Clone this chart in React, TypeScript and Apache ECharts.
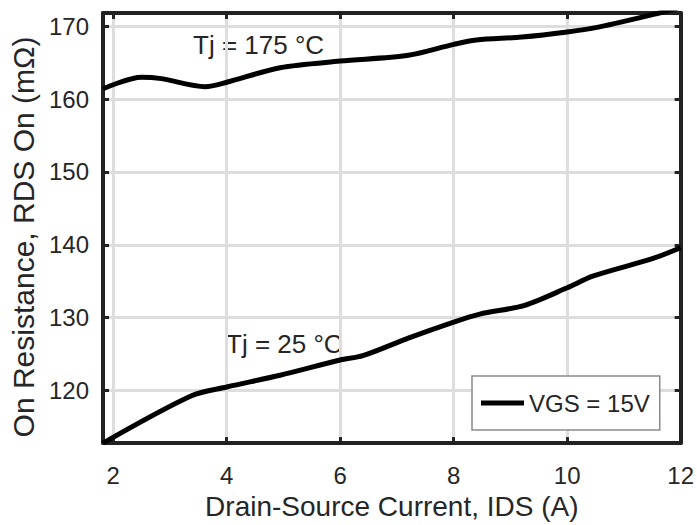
import React, { useEffect, useRef } from "react";
import * as echarts from "echarts";

const hotX = [1.82, 2.5, 2.85, 3.62, 4.0, 4.94, 6.0, 7.2, 8.0, 8.4, 9.2, 10.0, 10.57, 11.57, 12.0];
const hotY = [161.4, 163.0, 162.8, 161.7, 162.3, 164.3, 165.2, 166.0, 167.5, 168.1, 168.5, 169.2, 169.9, 171.7, 172.6];
const coldX = [1.82, 3.38, 4.0, 4.94, 6.0, 6.4, 7.2, 8.0, 8.46, 9.25, 10.0, 10.45, 11.5, 12.0];
const coldY = [112.8, 119.3, 120.5, 122.1, 124.2, 124.8, 127.2, 129.4, 130.5, 131.7, 134.1, 135.7, 138.1, 139.6];
const seriesName = "VGS = 15V";
const xName = "Drain-Source Current, IDS (A)";
const yName = "On Resistance, RDS On (mΩ)";
const hotLabel = "Tj = 175 °C";
const coldLabel = "Tj = 25 °C";
const xRange = [1.82, 12];
const yRange = [112.8, 171.8];

const FONT = "'Liberation Sans', Arial, Helvetica, sans-serif";
const TXT = "#262626";
const FRAME = "#222222";
const GRID = "#dddddd";

export default function App() {
  const ref = useRef<HTMLDivElement>(null);
  useEffect(() => {
    if (!ref.current) return;
    const chart = echarts.init(ref.current, null, { renderer: "svg" });
    const pair = (xs: number[], ys: number[]) => xs.map((x, i) => [x, ys[i]]);
    const baseX = {
      type: "value",
      min: xRange[0],
      max: xRange[1],
      axisLine: { show: true, onZero: false, lineStyle: { color: FRAME, width: 4 } },
      axisTick: { show: true, inside: true, length: 6, lineStyle: { color: FRAME, width: 3 } },
    };
    const baseY = {
      type: "value",
      min: yRange[0],
      max: yRange[1],
      axisLine: { show: true, onZero: false, lineStyle: { color: FRAME, width: 4 } },
      axisTick: { show: true, inside: true, length: 6, lineStyle: { color: FRAME, width: 3 } },
    };
    chart.setOption({
      animation: false,
      textStyle: { fontFamily: FONT },
      grid: { left: 103, right: 16, top: 13, bottom: 78, containLabel: false },
      xAxis: [
        {
          ...baseX,
          position: "bottom",
          name: xName,
          nameLocation: "middle",
          nameGap: 44,
          nameTextStyle: { fontSize: 28, color: TXT, fontFamily: FONT },
          axisLabel: { fontSize: 24, color: TXT, margin: 20, showMinLabel: false, fontFamily: FONT },
          splitLine: { show: true, lineStyle: { color: GRID, width: 3 } },
        },
        {
          ...baseX,
          position: "top",
          axisLabel: { show: false },
          splitLine: { show: false },
        },
      ],
      yAxis: [
        {
          ...baseY,
          position: "left",
          axisLabel: {
            fontSize: 24,
            color: TXT,
            margin: 14,
            showMinLabel: false,
            showMaxLabel: false,
            fontFamily: FONT,
          },
          splitLine: { show: true, lineStyle: { color: GRID, width: 3 } },
        },
        {
          ...baseY,
          position: "right",
          axisLabel: { show: false },
          splitLine: { show: false },
        },
      ],
      legend: {
        data: [seriesName],
        left: 472,
        top: 376,
        orient: "horizontal",
        icon: "rect",
        itemWidth: 43,
        itemHeight: 5,
        padding: [15, 10, 15, 9],
        borderColor: "#8a8a8a",
        borderWidth: 1.5,
        backgroundColor: "#ffffff",
        textStyle: { fontSize: 24, color: TXT, fontFamily: FONT },
        selectedMode: false,
      },
      series: [
        {
          name: seriesName,
          type: "line",
          data: pair(hotX, hotY),
          symbol: "none",
          smooth: 0.3,
          clip: true,
          lineStyle: { color: "#000000", width: 5 },
          itemStyle: { color: "#000000" },
        },
        {
          name: seriesName,
          type: "line",
          data: pair(coldX, coldY),
          symbol: "none",
          smooth: 0.3,
          clip: true,
          lineStyle: { color: "#000000", width: 5 },
          itemStyle: { color: "#000000" },
        },
      ],
      graphic: [
        {
          type: "text",
          x: 23,
          y: 237,
          rotation: Math.PI / 2,
          style: {
            text: yName,
            fontSize: 30,
            fill: TXT,
            fontFamily: FONT,
            textAlign: "center",
            textVerticalAlign: "middle",
          },
        },
        {
          type: "text",
          x: 193,
          y: 45,
          style: { text: hotLabel, fontSize: 26, fill: TXT, fontFamily: FONT, textVerticalAlign: "middle" },
        },
        {
          type: "text",
          x: 226,
          y: 344,
          style: { text: coldLabel, fontSize: 26, fill: TXT, fontFamily: FONT, textVerticalAlign: "middle" },
        },
      ],
    });
    return () => chart.dispose();
  }, []);
  return (
    <div
      ref={ref}
      style={{ position: "absolute", left: 0, top: 0, width: 697, height: 525, overflow: "hidden" }}
    />
  );
}
